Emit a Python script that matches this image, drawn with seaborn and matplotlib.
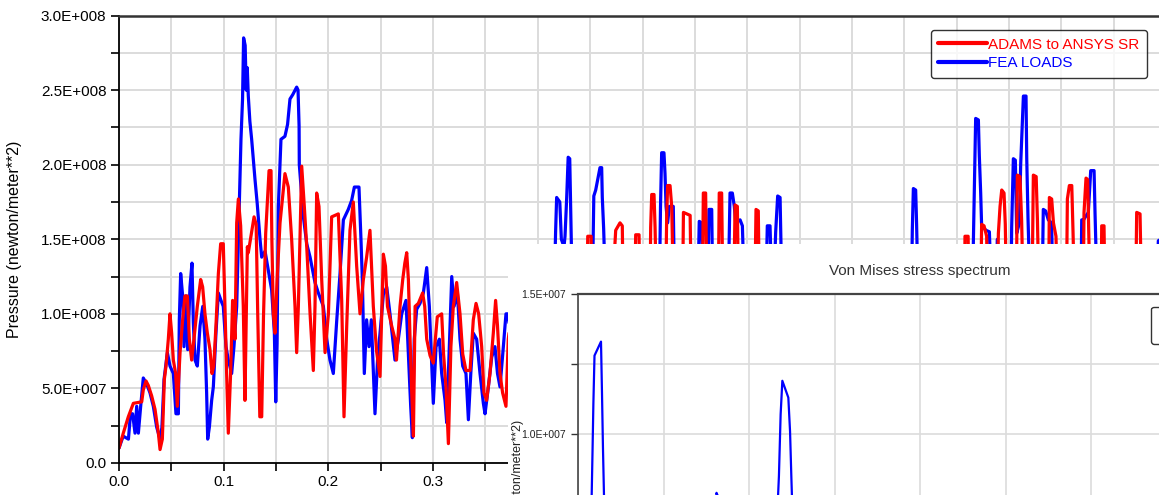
import numpy as np
import matplotlib
matplotlib.use("Agg")
import matplotlib.pyplot as plt
import seaborn as sns
from matplotlib.ticker import MultipleLocator, FuncFormatter
from matplotlib.lines import Line2D

# ---------------- data (pressure in 1e8 N/m^2, time in s) ----------------
red_t_left = [0.0, 0.0041, 0.0089, 0.0137, 0.0217, 0.0232, 0.0258, 0.028, 0.0312, 0.0344,
              0.0376, 0.0392, 0.0414, 0.0433, 0.0449, 0.0471, 0.0487, 0.0503, 0.0519, 0.0541,
              0.0557, 0.0583, 0.0608, 0.0630, 0.0653, 0.0672, 0.0694, 0.0716, 0.0748, 0.0780,
              0.0799, 0.0821, 0.0844, 0.0869, 0.0888, 0.0905, 0.0926, 0.0949, 0.0971, 0.0996,
              0.1012, 0.1028, 0.1044, 0.1066, 0.1085, 0.1108, 0.1124, 0.1140, 0.1162, 0.1187,
              0.1203, 0.1226, 0.1235, 0.1260, 0.1290, 0.1310, 0.1325, 0.1345, 0.1363, 0.1380,
              0.1401, 0.1433, 0.1452, 0.1460, 0.1474, 0.1490, 0.1510, 0.1538, 0.1585, 0.1617,
              0.1649, 0.1681, 0.1697, 0.1713, 0.1745, 0.1770, 0.1793, 0.1825, 0.1856, 0.1872,
              0.1888, 0.1910, 0.1936, 0.1968, 0.2000, 0.2031, 0.2095, 0.2127, 0.2149, 0.2175,
              0.2206, 0.2238, 0.2270, 0.2302, 0.2334, 0.2365, 0.2397, 0.2429, 0.2460, 0.2493,
              0.2525, 0.2545, 0.2564, 0.2604, 0.2636, 0.2650, 0.2684, 0.2710, 0.2730, 0.2748,
              0.2764, 0.2780, 0.2796, 0.2812, 0.2828, 0.2859, 0.2900, 0.2920, 0.2939, 0.2971,
              0.3002, 0.3040, 0.3082, 0.3100, 0.3123, 0.3146, 0.3170, 0.3193, 0.3225, 0.3257,
              0.3283, 0.3314, 0.3353, 0.3384, 0.3410, 0.3435, 0.3464, 0.3486, 0.3511, 0.3543,
              0.3575, 0.3597, 0.3615, 0.3639, 0.3664, 0.3696, 0.3718, 0.3725]
red_p_left = [0.10, 0.20, 0.31, 0.40, 0.41, 0.49, 0.55, 0.52, 0.45, 0.36,
              0.20, 0.09, 0.16, 0.56, 0.65, 0.83, 1.00, 0.87, 0.69, 0.60,
              0.38, 0.74, 0.96, 1.12, 1.12, 0.83, 0.69, 0.83, 1.05, 1.23,
              1.18, 1.00, 0.87, 0.76, 0.60, 0.65, 0.92, 1.27, 1.47, 1.47,
              1.05, 0.60, 0.20, 0.60, 1.09, 0.83, 1.61, 1.77, 1.59, 1.05,
              0.42, 1.45, 1.41, 1.52, 1.65, 1.60, 1.00, 0.31, 0.31, 0.98,
              1.54, 1.96, 1.96, 1.50, 1.00, 0.87, 1.23, 1.61, 1.94, 1.85,
              1.50, 1.05, 0.74, 1.05, 1.99, 1.72, 1.45, 1.00, 0.62, 1.05,
              1.81, 1.72, 1.23, 0.74, 1.00, 1.65, 1.67, 1.09, 0.31, 0.92,
              1.56, 1.75, 1.32, 1.00, 1.23, 1.38, 1.56, 1.05, 0.75, 0.58,
              1.40, 1.32, 1.05, 0.92, 0.83, 0.69, 1.05, 1.23, 1.34, 1.41,
              1.23, 0.83, 0.47, 0.18, 1.05, 1.07, 1.14, 1.05, 0.83, 0.72,
              0.67, 0.98, 1.00, 0.73, 0.51, 0.13, 0.78, 1.05, 1.21, 1.00,
              0.73, 0.62, 0.62, 0.96, 1.07, 1.00, 0.78, 0.47, 0.42, 0.60,
              0.87, 1.09, 0.92, 0.60, 0.47, 0.38, 0.83, 0.87]

red_t_right = [0.380, 0.400, 0.4465, 0.4477, 0.4509, 0.452, 0.470, 0.4744, 0.4785, 0.4807,
               0.482, 0.492, 0.4935, 0.4967, 0.498, 0.507, 0.5078, 0.5088, 0.5110, 0.5120,
               0.514, 0.522, 0.5231, 0.5240, 0.5263, 0.5279, 0.530, 0.538, 0.5391, 0.5455,
               0.547, 0.557, 0.5581, 0.5603, 0.562, 0.572, 0.5733, 0.5756, 0.577, 0.587,
               0.5884, 0.5906, 0.592, 0.607, 0.6084, 0.6106, 0.612, 0.700, 0.800, 0.8075,
               0.808, 0.811, 0.812, 0.823, 0.8239, 0.8262, 0.8287, 0.830, 0.839, 0.8399,
               0.8415, 0.8431, 0.8453, 0.8465, 0.848, 0.857, 0.8580, 0.8605, 0.8621, 0.864,
               0.872, 0.8733, 0.8760, 0.8772, 0.879, 0.888, 0.8886, 0.8908, 0.8925, 0.8949,
               0.897, 0.905, 0.9058, 0.9077, 0.9100, 0.9112, 0.913, 0.921, 0.9217, 0.9236,
               0.9252, 0.9262, 0.928, 0.938, 0.9386, 0.9408, 0.942, 0.971, 0.9720, 0.9752,
               0.977, 0.995]
red_p_right = [0.95, 0.80, 0.90, 1.52, 1.52, 0.85, 1.00, 1.56, 1.61, 1.59,
               0.90, 0.95, 1.53, 1.53, 0.80, 1.00, 1.58, 1.80, 1.80, 1.58,
               0.90, 1.10, 1.65, 1.86, 1.86, 1.72, 1.00, 0.95, 1.68, 1.66,
               0.90, 1.00, 1.81, 1.81, 0.85, 0.90, 1.81, 1.81, 1.00, 1.05,
               1.73, 1.72, 0.95, 1.00, 1.70, 1.69, 0.90, 0.95, 1.00, 1.05,
               1.52, 1.52, 1.00, 1.10, 1.60, 1.59, 1.52, 1.00, 1.20, 1.54,
               1.72, 1.83, 1.81, 1.60, 1.00, 1.10, 1.93, 1.92, 1.63, 1.00,
               1.10, 1.93, 1.92, 1.63, 1.00, 1.20, 1.78, 1.77, 1.61, 1.52,
               1.00, 1.20, 1.77, 1.86, 1.86, 1.55, 1.00, 1.20, 1.68, 1.91,
               1.90, 1.55, 1.00, 1.10, 1.59, 1.59, 1.00, 1.10, 1.68, 1.67,
               1.00, 0.90]

blue_t_left = [0.0, 0.004, 0.009, 0.011, 0.013, 0.0153, 0.0169, 0.0185, 0.0207, 0.0232,
               0.0264, 0.0296, 0.0328, 0.0360, 0.0392, 0.0410, 0.0430, 0.0462, 0.0487, 0.0519,
               0.0544, 0.0567, 0.0576, 0.0589, 0.0608, 0.0621, 0.0640, 0.0656, 0.0678, 0.0697,
               0.0710, 0.0726, 0.0748, 0.0774, 0.0800, 0.0821, 0.0837, 0.0847, 0.0863, 0.0885,
               0.0901, 0.0926, 0.0949, 0.0974, 0.0996, 0.1022, 0.1044, 0.1076, 0.1098, 0.1124,
               0.1150, 0.1165, 0.1180, 0.1190, 0.1205, 0.1215, 0.1225, 0.1235, 0.1250, 0.1267,
               0.1299, 0.1320, 0.1347, 0.1363, 0.1395, 0.1426, 0.1458, 0.1484, 0.1497, 0.1510,
               0.1522, 0.1547, 0.1585, 0.1610, 0.1633, 0.1660, 0.1697, 0.1710, 0.1720, 0.1722,
               0.1761, 0.1793, 0.1825, 0.1872, 0.1904, 0.1952, 0.1984, 0.2015, 0.2047, 0.2080,
               0.2111, 0.2143, 0.2190, 0.2222, 0.2248, 0.2292, 0.2311, 0.2325, 0.2343, 0.2365,
               0.2388, 0.2410, 0.2445, 0.2470, 0.2493, 0.2525, 0.2557, 0.2588, 0.2636, 0.2668,
               0.2700, 0.2741, 0.2764, 0.2786, 0.2802, 0.2820, 0.2843, 0.2875, 0.2907, 0.2939,
               0.2964, 0.2987, 0.3002, 0.3028, 0.3060, 0.3082, 0.3114, 0.3130, 0.3146, 0.3178,
               0.3200, 0.3232, 0.3257, 0.3283, 0.3314, 0.3337, 0.3360, 0.3384, 0.3416, 0.3448,
               0.3480, 0.3496, 0.3528, 0.3560, 0.3591, 0.3615, 0.3639, 0.3671, 0.3696, 0.3712,
               0.3725]
blue_p_left = [0.10, 0.18, 0.16, 0.33, 0.33, 0.20, 0.38, 0.20, 0.38, 0.57,
               0.53, 0.47, 0.38, 0.24, 0.16, 0.24, 0.56, 0.74, 0.65, 0.60,
               0.33, 0.33, 0.96, 1.27, 1.12, 0.78, 1.12, 0.76, 1.18, 1.34,
               0.94, 0.69, 0.65, 0.92, 1.05, 0.83, 0.47, 0.16, 0.24, 0.42,
               0.51, 0.87, 1.14, 1.09, 1.05, 0.78, 0.69, 0.60, 0.78, 1.05,
               1.77, 2.17, 2.44, 2.85, 2.80, 2.50, 2.65, 2.46, 2.29, 2.17,
               1.90, 1.74, 1.50, 1.38, 1.42, 1.29, 1.16, 0.87, 0.41, 0.80,
               1.72, 2.17, 2.19, 2.27, 2.44, 2.47, 2.52, 2.50, 2.26, 2.00,
               1.65, 1.47, 1.38, 1.21, 1.14, 1.05, 0.83, 0.69, 0.60, 0.96,
               1.27, 1.63, 1.70, 1.76, 1.85, 1.85, 1.50, 1.21, 0.60, 0.96,
               0.78, 0.96, 0.33, 0.70, 0.87, 1.13, 1.18, 1.00, 0.69, 0.83,
               1.00, 1.09, 0.73, 0.38, 0.17, 0.83, 1.03, 1.07, 1.14, 1.31,
               1.05, 0.65, 0.40, 0.78, 0.83, 0.60, 0.42, 0.27, 0.60, 1.25,
               1.05, 1.14, 0.83, 0.65, 0.60, 0.29, 0.60, 0.87, 0.83, 0.60,
               0.40, 0.33, 0.51, 0.71, 0.78, 0.60, 0.51, 0.78, 1.00, 1.00,
               0.94]

blue_t_right = [0.390, 0.416, 0.4165, 0.417, 0.418, 0.421, 0.4225, 0.425, 0.426, 0.4276,
                0.429, 0.4305, 0.4314, 0.4325, 0.440, 0.452, 0.4535, 0.4553, 0.4572, 0.4594,
                0.4610, 0.4616, 0.4629, 0.4645, 0.500, 0.516, 0.5172, 0.5183, 0.5205, 0.5215,
                0.5225, 0.5240, 0.5256, 0.5294, 0.5305, 0.553, 0.5542, 0.5565, 0.558, 0.5625,
                0.5635, 0.5661, 0.567, 0.582, 0.5836, 0.5858, 0.5877, 0.5890, 0.5932, 0.5954,
                0.597, 0.618, 0.6192, 0.6218, 0.623, 0.6265, 0.6272, 0.6291, 0.6314, 0.633,
                0.700, 0.757, 0.7577, 0.7587, 0.7609, 0.7618, 0.763, 0.815, 0.8166, 0.8182,
                0.8208, 0.8217, 0.8230, 0.8239, 0.8281, 0.8313, 0.833, 0.838, 0.839, 0.840,
                0.852, 0.8526, 0.8542, 0.8561, 0.8574, 0.8600, 0.8612, 0.8625, 0.8638, 0.8663,
                0.8670, 0.8682, 0.870, 0.882, 0.8828, 0.8850, 0.8876, 0.8907, 0.892, 0.919,
                0.9195, 0.9212, 0.9258, 0.9281, 0.9313, 0.9322, 0.934, 0.990, 0.9927, 0.995]
blue_p_right = [0.85, 0.95, 1.40, 1.55, 1.78, 1.75, 1.50, 1.45, 1.52, 1.78,
                2.05, 2.04, 1.71, 1.30, 1.00, 1.10, 1.79, 1.83, 1.90, 1.98,
                1.98, 1.78, 1.57, 1.20, 0.90, 1.10, 1.72, 2.08, 2.08, 1.94,
                1.72, 1.61, 1.72, 1.72, 1.20, 1.20, 1.62, 1.61, 1.20, 1.30,
                1.70, 1.70, 1.20, 1.20, 1.81, 1.81, 1.72, 1.61, 1.63, 1.59,
                1.20, 1.20, 1.59, 1.59, 1.30, 1.40, 1.55, 1.79, 1.78, 1.20,
                0.90, 1.20, 1.56, 1.84, 1.83, 1.60, 1.20, 1.10, 1.69, 2.31,
                2.30, 2.06, 1.81, 1.59, 1.56, 1.55, 1.20, 1.30, 1.50, 1.20,
                1.20, 1.58, 2.04, 2.03, 1.54, 1.61, 2.00, 2.23, 2.46, 2.46,
                2.04, 1.64, 1.20, 1.30, 1.70, 1.69, 1.63, 1.61, 1.20, 1.30,
                1.63, 1.63, 1.68, 1.96, 1.96, 1.68, 1.20, 1.00, 1.49, 1.50]

# Von Mises stress spectrum (stress in 1e7 N/m^2)
spec_f = [0.0, 1.3, 1.6, 1.7, 1.8, 1.93, 2.69, 2.81, 2.92, 3.04, 3.4, 15.0,
          15.7, 16.2, 16.6, 17.2, 23.0, 23.4, 23.5, 23.7, 23.9, 24.6, 24.8,
          24.95, 25.05, 25.5, 40.0, 80.0]
spec_s = [0.30, 0.45, 0.78, 0.94, 1.11, 1.28, 1.33, 1.14, 0.95, 0.78, 0.45, 0.40,
          0.60, 0.79, 0.76, 0.55, 0.45, 0.78, 0.85, 1.07, 1.19, 1.13, 1.01,
          0.85, 0.75, 0.45, 0.35, 0.30]

red_label = "ADAMS to ANSYS SR"
blue_label = "FEA LOADS"

red_t = red_t_left + red_t_right
red_p = np.array(red_p_left + red_p_right)
blue_t = blue_t_left + blue_t_right
blue_p = np.array(blue_p_left + blue_p_right)

# ---------------- styling ----------------
sns.set_theme(style="white")
plt.rcParams['font.family'] = ['Liberation Sans', 'DejaVu Sans']

W, H = 1159, 495
fig = plt.figure(figsize=(W / 100, H / 100), dpi=100)
fig.patch.set_facecolor("white")


def rect(l, t, r, b):
    return [l / W, 1 - b / H, (r - l) / W, (b - t) / H]


def sci(v, pos=None):
    if abs(v) < 1e-12:
        return "0.0"
    e = int(np.floor(np.log10(abs(v)) + 1e-9))
    m = v / 10 ** e
    return f"{m:.1f}E+{e:03d}"


GRID = "#dcdcdc"

# ---------------- main pressure chart ----------------
ax = fig.add_axes(rect(119, 15.5, 1159, 463))
ax.set_zorder(0)
sns.lineplot(x=blue_t, y=blue_p * 1e8, ax=ax, color="#0000ff", lw=2.3,
             sort=False, estimator=None, label=blue_label)
sns.lineplot(x=red_t, y=red_p * 1e8, ax=ax, color="#ff0000", lw=2.3,
             sort=False, estimator=None, label=red_label)
ax.set_xlim(0, (1159 - 119) / 1047)
ax.set_ylim(0, 3e8)
ax.xaxis.set_major_locator(MultipleLocator(0.1))
ax.xaxis.set_minor_locator(MultipleLocator(0.05))
ax.yaxis.set_major_locator(MultipleLocator(0.5e8))
ax.yaxis.set_minor_locator(MultipleLocator(0.25e8))
ax.yaxis.set_major_formatter(FuncFormatter(sci))
ax.xaxis.set_major_formatter(FuncFormatter(lambda v, p: f"{v:.1f}" if v < 0.36 else ""))
ax.grid(True, which="both", color=GRID, lw=1.4)
ax.set_axisbelow(True)
ax.tick_params(which="both", direction="out", length=6, width=1.2, color="black",
               labelsize=11, labelcolor="black", bottom=True, left=True)
ax.tick_params(which="major", pad=3)
for s in ["left", "bottom"]:
    ax.spines[s].set_color("black")
    ax.spines[s].set_linewidth(1.3)
ax.spines["top"].set_color("#333333")
ax.spines["top"].set_linewidth(1.8)
ax.spines["right"].set_visible(False)
ax.set_xlabel("")
ax.set_ylabel("Pressure (newton/meter**2)", fontsize=11.5, color="black")
ax.yaxis.set_label_coords(-0.093, 0.5)

h = [Line2D([], [], color="#ff0000", lw=3), Line2D([], [], color="#0000ff", lw=3)]
leg = ax.legend(h, [red_label, blue_label], loc="upper right",
                bbox_to_anchor=((1147 - 119) / 1040, (463 - 30) / 447.5),
                borderaxespad=0, fontsize=11, handlelength=3.2, handletextpad=0.05,
                labelspacing=0.3, borderpad=0.5, frameon=True, fancybox=True)
leg.get_frame().set_edgecolor("black")
leg.get_frame().set_linewidth(1.0)
leg.get_frame().set_facecolor("white")
for txt, c in zip(leg.get_texts(), ["#ff0000", "#0000ff"]):
    txt.set_color(c)

# ---------------- overlapping window (Von Mises spectrum) ----------------
ax_win = fig.add_axes(rect(508, 244, 1159, 495))
ax_win.set_zorder(1)
ax_win.set_facecolor("white")
ax_win.set_xticks([])
ax_win.set_yticks([])
for s in ax_win.spines.values():
    s.set_visible(False)

ax_in = fig.add_axes(rect(578, 294, 1262, 574))
ax_in.set_zorder(2)
ax_in.set_facecolor("white")
sns.lineplot(x=spec_f, y=np.array(spec_s) * 1e7, ax=ax_in, color="#0000ff", lw=1.6,
             sort=False, estimator=None, legend=False)
ax_in.set_xlim(0, 80)
ax_in.set_ylim(0.5e7, 1.5e7)
ax_in.xaxis.set_major_locator(MultipleLocator(10))
ax_in.yaxis.set_major_locator(MultipleLocator(0.5e7))
ax_in.yaxis.set_minor_locator(MultipleLocator(0.25e7))
ax_in.yaxis.set_major_formatter(FuncFormatter(sci))
ax_in.grid(True, which="both", color=GRID, lw=1.2)
ax_in.set_axisbelow(True)
ax_in.tick_params(axis="y", which="both", direction="out", length=5, width=1.0,
                  color="#333333", labelsize=7.5, labelcolor="#222222", left=True)
ax_in.tick_params(axis="x", labelbottom=False, bottom=False)
ax_in.spines["top"].set_color("#444444")
ax_in.spines["top"].set_linewidth(1.6)
ax_in.spines["left"].set_color("#444444")
ax_in.spines["left"].set_linewidth(1.2)
ax_in.spines["right"].set_visible(False)
ax_in.spines["bottom"].set_visible(False)
ax_in.set_xlabel("")
ax_in.set_ylabel("")

h2 = [Line2D([], [], color="#0000ff", lw=2)]
leg2 = ax_in.legend(h2, [blue_label], loc="upper left",
                    bbox_to_anchor=((1151 - 578) / 684, (574 - 307) / 280),
                    borderaxespad=0, fontsize=9, borderpad=1.0, frameon=True, fancybox=True)
leg2.get_frame().set_edgecolor("black")
leg2.get_frame().set_linewidth(1.0)

fig.text(920 / W, 1 - 271 / H, "Von Mises stress spectrum", ha="center", va="center",
         fontsize=11, color="#333333", zorder=5)
fig.text(518 / W, 1 - 420 / H, "Stress (newton/meter**2)", ha="center", va="top",
         rotation=90, fontsize=9, color="#222222", zorder=5)

fig.savefig("out.png", dpi=100)
